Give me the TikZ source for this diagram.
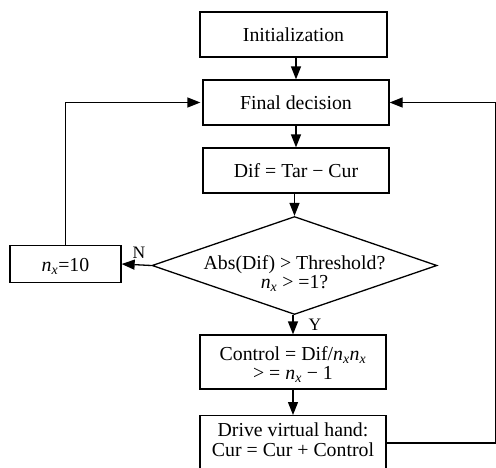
\documentclass[tikz,border=0pt]{standalone}
\usepackage{fontspec}
\setmainfont{Liberation Serif}
\usetikzlibrary{arrows.meta,shapes.geometric}
\newcommand\nxx{\textit{n}\textsubscript{\textit{x}}}
\newcommand\twolines[2]{\raisebox{#1}[\height][\depth]{\begin{tabular}{@{}c@{}}#2\end{tabular}}}
\begin{document}
\begin{tikzpicture}[x=1pt,y=-1pt, line width=1.3pt,
 box/.style={draw, rectangle, inner sep=0pt, align=center, font=\fontsize{19.8}{19.5}\selectfont},
 arr/.style={-{Triangle[length=13pt,width=10pt]}},
 lab/.style={font=\fontsize{17.5}{18}\selectfont, inner sep=0pt, anchor=base},
 txt/.style={inner sep=0pt, anchor=base, font=\fontsize{19.8}{19.5}\selectfont}]
\useasboundingbox (0,0) rectangle (496,467);
\node[box, minimum width=187pt, minimum height=45pt] (init) at (293.5,34.5) {Initialization};
\node[box, minimum width=186pt, minimum height=45pt] (final) at (296,102.5) {Final decision};
\node[box, minimum width=186pt, minimum height=45pt] (dif) at (296,170.5) {Dif = Tar − Cur};
\node[draw, shape=diamond, inner sep=0pt, minimum width=285pt, minimum height=98pt] (dec) at (294.5,265.5) {};
\node[txt] (dectxt) at (294.5,269) {\begin{tabular}[t]{@{}c@{}}Abs(Dif) > Threshold?\\\nxx{} > =1?\end{tabular}};
\node[box, minimum width=111pt, minimum height=37pt] (nx) at (65.5,264) {\raisebox{-2pt}[\height][\depth]{\nxx=10}};
\node[box, minimum width=186pt, minimum height=54pt] (ctrl) at (293,362) {\twolines{-3.8pt}{Control = Dif/\nxx\nxx\\> = \nxx{} − 1}};
\node[box, minimum width=186pt, minimum height=60pt, anchor=north] (drive) at (293,415) {\twolines{3.2pt}{Drive virtual hand:\\Cur = Cur + Control}};
\coordinate (rtop) at (495.5,102.5);
\coordinate (rbot) at (495.5,443);
\coordinate (ltop) at (65.5,102.5);
\draw[arr] (final.north |- init.south) -- (final.north);
\draw[arr] (final.south) -- (dif.north);
\draw[arr] (dec.north |- dif.south) -- (dec.north);
\draw[arr] (ctrl.north |- dec.south) -- (ctrl.north);
\draw[arr] (ctrl.south) -- (drive.north);
\draw[arr] (dec.west) -- (nx.east);
\draw[arr] (nx.north) -- (ltop) -- ([xshift=-2pt]final.west);
\draw[arr] (rbot -| drive.east) -- (rbot) -- (rtop) -- (final.east);
\node[lab] (N) at (139,258) {N};
\node[lab] (Y) at (315,330) {Y};
\end{tikzpicture}
\end{document}
